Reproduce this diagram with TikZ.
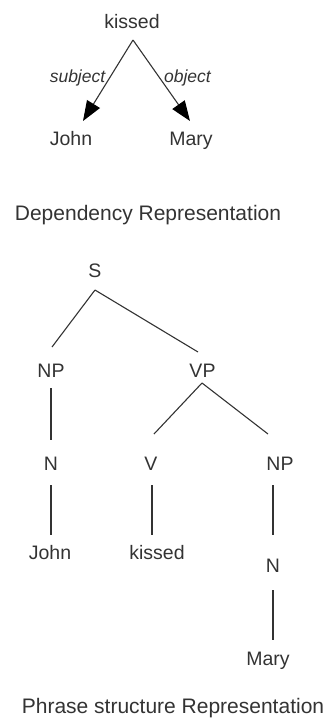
\documentclass[tikz,border=0pt]{standalone}
\usepackage{fontspec}
\setmainfont{Liberation Sans}
\usetikzlibrary{arrows.meta}
\definecolor{ink}{HTML}{333333}
\tikzset{
  lbl/.style={anchor=base,inner sep=0pt,text=ink,font=\fontsize{19.5}{22}\selectfont},
  ttl/.style={anchor=base,inner sep=0pt,text=ink,font=\fontsize{21}{24}\selectfont},
  rel/.style={anchor=base,inner sep=0pt,text=ink,font=\fontsize{17.5}{20}\selectfont\itshape},
  edge/.style={draw=ink,line width=1.1pt},
  dep/.style={edge,-{Triangle[length=20pt,width=15pt,color=black]}}
}
\begin{document}
\begin{tikzpicture}[x=1pt,y=-1pt]
\useasboundingbox (0,0) rectangle (330,724);
% dependency
\node[lbl] (k) at (132,28) {kissed};
\node[lbl] (j) at (71,145) {John};
\node[lbl] (m) at (191,145) {Mary};
\node[rel] (subj) at (77.5,82) {subject};
\node[rel] (obj) at (187.5,82) {object};
\node[ttl] (t1) at (148,220) {Dependency Representation};
\draw[dep] ([shift={(1,12)}]k.base) -- ([shift={(12,-24)}]j.base);
\draw[dep] ([shift={(1,12)}]k.base) -- ([shift={(-1,-24)}]m.base);
% phrase structure
\node[lbl] (s) at (95,277) {S};
\node[lbl] (np) at (51,377) {NP};
\node[lbl] (vp) at (202.5,377) {VP};
\node[lbl] (n) at (51,470) {N};
\node[lbl] (v) at (151,470) {V};
\node[lbl] (np2) at (280,470) {NP};
\node[lbl] (j2) at (50,559) {John};
\node[lbl] (k2) at (157,559) {kissed};
\node[lbl] (n2) at (273,572) {N};
\node[lbl] (m2) at (268,665) {Mary};
\node[ttl] (t2) at (173,713) {Phrase structure Representation};
\draw[edge] ([shift={(0,13)}]s.base) -- ([shift={(1,-30)}]np.base);
\draw[edge] ([shift={(0,13)}]s.base) -- ([shift={(-4.5,-25)}]vp.base);
\draw[edge] ([shift={(0,11)}]np.base) -- ([shift={(0,-30)}]n.base);
\draw[edge] ([shift={(-0.5,6)}]vp.base) -- ([shift={(3,-36)}]v.base);
\draw[edge] ([shift={(-0.5,6)}]vp.base) -- ([shift={(-12,-36)}]np2.base);
\draw[edge] ([shift={(0,15)}]n.base) -- ([shift={(1,-24)}]j2.base);
\draw[edge] ([shift={(1,15)}]v.base) -- ([shift={(-5,-24)}]k2.base);
\draw[edge] ([shift={(-7,15)}]np2.base) -- ([shift={(0,-37)}]n2.base);
\draw[edge] ([shift={(0,18)}]n2.base) -- ([shift={(5,-25)}]m2.base);
\end{tikzpicture}
\end{document}
